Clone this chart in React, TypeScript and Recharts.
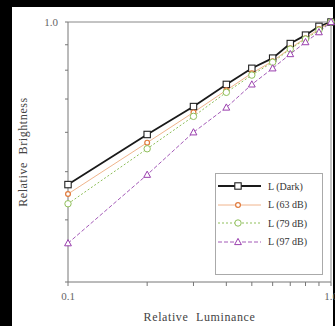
import {
  LineChart,
  Line,
  XAxis,
  YAxis,
  Label,
  ReferenceLine,
} from "recharts";

const luminance = [0.1, 0.2, 0.3, 0.4, 0.5, 0.6, 0.7, 0.8, 0.9, 1.0];
const darkValues = [0.471, 0.594, 0.676, 0.749, 0.807, 0.846, 0.905, 0.941, 0.98, 1.0];
const db63Values = [0.451, 0.572, 0.658, 0.729, 0.789, 0.834, 0.886, 0.928, 0.968, 1.0];
const db79Values = [0.431, 0.556, 0.646, 0.722, 0.782, 0.83, 0.882, 0.924, 0.963, 1.0];
const db97Values = [0.359, 0.493, 0.6, 0.673, 0.749, 0.807, 0.862, 0.911, 0.954, 1.0];

const xTicks = [0.1, 0.2, 0.3, 0.4, 0.5, 0.6, 0.7, 0.8, 0.9, 1.0];
const yTicks = [0.3, 0.4, 0.5, 0.6, 0.7, 0.8, 0.9, 1.0];

const seriesKeys = ["dark", "db63", "db79", "db97"] as const;
const seriesNames = ["L (Dark)", "L (63 dB)", "L (79 dB)", "L (97 dB)"];

const data = luminance.map((l, i) => ({
  lum: l,
  dark: darkValues[i],
  db63: db63Values[i],
  db79: db79Values[i],
  db97: db97Values[i],
}));

type Shape = "square" | "circle" | "smallCircle" | "triangle";

const styles: Record<string, { color: string; line: string; width: number; dash?: string; shape: Shape }> = {
  dark: { color: "#222", line: "#1a1a1a", width: 1.8, shape: "square" },
  db63: { color: "#e07a3c", line: "#f0b48c", width: 1, shape: "smallCircle" },
  db79: { color: "#8fbf5a", line: "#8fbf5a", width: 1, dash: "2 2", shape: "circle" },
  db97: { color: "#9a3fae", line: "#a45bb8", width: 1, dash: "4 2", shape: "triangle" },
};

function marker(shape: Shape, color: string, cx: number, cy: number, key?: string) {
  if (shape === "square") {
    return <rect key={key} x={cx - 3.2} y={cy - 3.2} width={6.4} height={6.4} fill="#fff" stroke={color} strokeWidth={1.1} />;
  }
  if (shape === "smallCircle") {
    return <circle key={key} cx={cx} cy={cy} r={2.4} fill="#fff" stroke={color} strokeWidth={1.2} />;
  }
  if (shape === "circle") {
    return <circle key={key} cx={cx} cy={cy} r={3.2} fill="#fff" stroke={color} strokeWidth={1} />;
  }
  return (
    <polygon
      key={key}
      points={`${cx},${cy - 3.6} ${cx + 3.4},${cy + 2.6} ${cx - 3.4},${cy + 2.6}`}
      fill="#fff"
      stroke={color}
      strokeWidth={1}
    />
  );
}

const makeDot = (k: string) => (props: any) =>
  marker(styles[k].shape, styles[k].color, props.cx, props.cy, `${k}-${props.index}`);

function LegendBox() {
  return (
    <div
      style={{
        position: "absolute",
        left: 215,
        top: 173,
        width: 108,
        height: 102,
        border: "1px solid #aaa",
        background: "#fff",
        paddingTop: 3,
        boxSizing: "border-box",
        fontFamily: "'Liberation Serif', serif",
        fontSize: 10,
        color: "#333",
      }}
    >
      {seriesKeys.map((k, i) => {
        const s = styles[k];
        return (
          <div key={k} style={{ display: "flex", alignItems: "center", height: 18.5 }}>
            <svg width={50} height={12}>
              <line x1={2} y1={6} x2={45} y2={6} stroke={s.line} strokeWidth={s.width} strokeDasharray={s.dash} />
              {marker(s.shape, s.color, 22, 6)}
            </svg>
            <span style={{ marginLeft: 2 }}>{seriesNames[i]}</span>
          </div>
        );
      })}
    </div>
  );
}

const tickStyle = { fontFamily: "'Liberation Serif', serif", fontSize: 11, fill: "#666" };
const titleStyle = {
  fontFamily: "'Liberation Serif', serif",
  fontSize: 12,
  fill: "#444",
  letterSpacing: 0.6,
  wordSpacing: 4,
};

export default function App() {
  return (
    <div style={{ position: "absolute", left: 0, top: 0, width: 335, height: 326, background: "#000", overflow: "hidden" }}>
      <div style={{ position: "absolute", left: 12, top: 7, width: 321, height: 319, background: "#fff" }} />
      <div style={{ position: "absolute", left: 0, top: 0 }}>
        <LineChart width={335} height={326} data={data} margin={{ top: 22, right: 4, left: 0, bottom: 0 }}>
          <XAxis
            dataKey="lum"
            type="number"
            scale="log"
            domain={[0.1, 1]}
            ticks={xTicks}
            interval={0}
            tickFormatter={(v: number) => (v === 0.1 ? "0.1" : v === 1 ? "1.0" : "")}
            tick={tickStyle}
            tickSize={4}
            tickMargin={6}
            height={44}
            stroke="#777"
          >
            <Label
              content={({ viewBox }: any) => (
                <text
                  x={viewBox.x + viewBox.width / 2}
                  y={321}
                  textAnchor="middle"
                  style={titleStyle}
                >
                  Relative Luminance
                </text>
              )}
            />
          </XAxis>
          <YAxis
            type="number"
            scale="log"
            domain={[0.3, 1]}
            ticks={yTicks}
            interval={0}
            tickFormatter={(v: number) => (v === 1 ? "1.0" : "")}
            tick={tickStyle}
            tickSize={3}
            tickMargin={7}
            width={68}
            stroke="#777"
          >
            <Label
              content={({ viewBox }: any) => {
                const cx = 23;
                const cy = viewBox.y + viewBox.height / 2;
                return (
                  <text
                    x={cx}
                    y={cy}
                    transform={`rotate(-90, ${cx}, ${cy})`}
                    textAnchor="middle"
                    dominantBaseline="central"
                    style={titleStyle}
                  >
                    Relative Brightness
                  </text>
                );
              }}
            />
          </YAxis>
          <ReferenceLine y={1} stroke="#888" strokeWidth={1} />
          <ReferenceLine x={1} stroke="#888" strokeWidth={1} />
          {seriesKeys.map((k, i) => (
            <Line
              key={k}
              dataKey={k}
              name={seriesNames[i]}
              stroke={styles[k].line}
              strokeWidth={styles[k].width}
              strokeDasharray={styles[k].dash}
              dot={makeDot(k)}
              activeDot={false}
              isAnimationActive={false}
            />
          ))}
        </LineChart>
      </div>
      <LegendBox />
    </div>
  );
}
